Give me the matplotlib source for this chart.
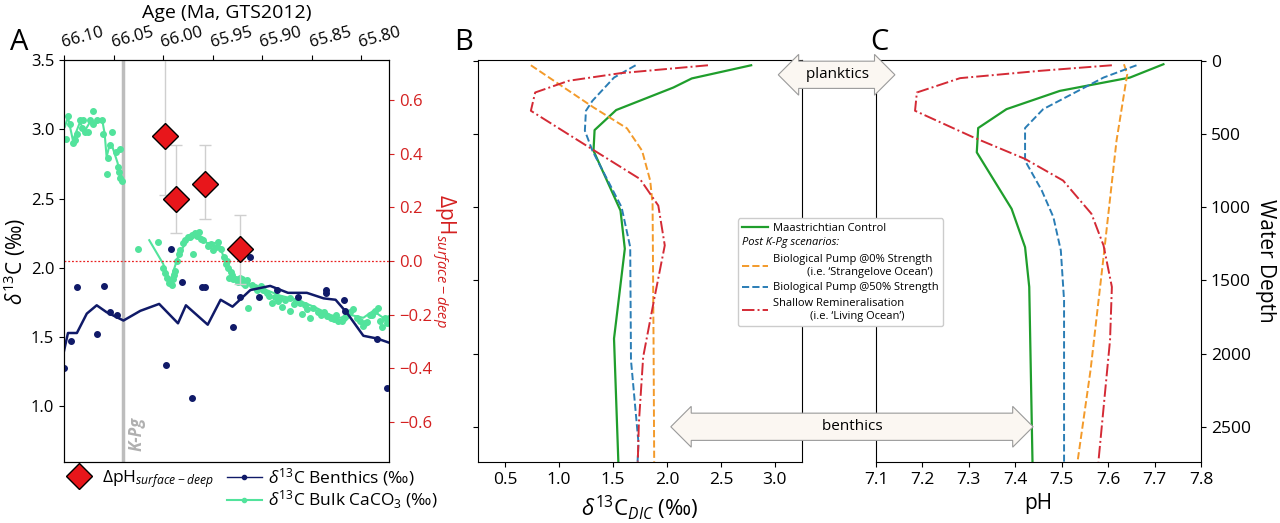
import matplotlib
matplotlib.use('Agg')
import matplotlib.pyplot as plt
from matplotlib.lines import Line2D
import matplotlib.text as mtext

plt.rcParams['font.family'] = ['Open Sans', 'DejaVu Sans']
plt.rcParams['mathtext.fontset'] = 'custom'
plt.rcParams['mathtext.rm'] = 'Open Sans'
plt.rcParams['mathtext.it'] = 'Open Sans:italic'
plt.rcParams['mathtext.bf'] = 'Open Sans:bold'

# ---- panel A data ----
bent_line_age = [66.100, 66.096, 66.087, 66.077, 66.067, 66.057, 66.040, 66.023, 66.004, 65.985, 65.977, 65.955,
                 65.942, 65.930, 65.912, 65.892, 65.874, 65.855, 65.838, 65.826, 65.814, 65.798, 65.784, 65.772]
bent_line_d13c = [1.40, 1.53, 1.53, 1.67, 1.73, 1.68, 1.62, 1.69, 1.74, 1.60, 1.73, 1.59,
                  1.77, 1.72, 1.84, 1.87, 1.82, 1.82, 1.78, 1.77, 1.67, 1.51, 1.49, 1.46]
bent_age = [66.100, 66.093, 66.087, 66.067, 66.060, 66.054, 66.047, 65.997, 65.992, 65.981, 65.971, 65.961,
            65.958, 65.929, 65.922, 65.912, 65.903, 65.885, 65.864, 65.836, 65.836, 65.818, 65.817, 65.784, 65.774]
bent_d13c = [1.28, 1.47, 1.86, 1.52, 1.87, 1.68, 1.66, 1.30, 2.14, 1.90, 1.06, 1.86,
             1.86, 1.57, 1.79, 2.08, 1.79, 1.84, 1.79, 1.84, 1.82, 1.77, 1.69, 1.49, 1.13]

bulk1_age = [66.098, 66.096, 66.094, 66.091, 66.089, 66.087, 66.084, 66.082, 66.081, 66.079, 66.076, 66.074,
             66.071, 66.071, 66.067, 66.062, 66.061, 66.052, 66.054, 66.056, 66.057, 66.048, 66.044, 66.046,
             66.045, 66.043, 66.041]
bulk1_d13c = [2.93, 3.10, 3.04, 2.90, 2.92, 2.97, 3.07, 3.01, 3.07, 2.98, 2.98, 3.07,
              3.13, 3.04, 3.07, 3.07, 2.97, 2.98, 2.89, 2.79, 2.68, 2.84, 2.86, 2.73,
              2.69, 2.65, 2.63]
bulk1_line_age = [66.099, 66.096, 66.091, 66.084, 66.079, 66.074, 66.069, 66.064, 66.061, 66.059, 66.057,
                  66.054, 66.051, 66.046, 66.044, 66.040]
bulk1_line_d13c = [3.02, 3.09, 2.92, 3.05, 2.99, 3.05, 3.04, 3.07, 3.05, 2.97, 2.80,
                   2.89, 2.87, 2.76, 2.70, 2.62]

bulk2_age = [66.025, 66.005, 66.000, 65.996, 65.993, 65.990, 65.988, 65.986, 65.983, 65.980, 65.975, 65.971,
             65.968, 65.964, 65.970, 65.960, 65.955, 65.950, 65.945, 65.942, 65.937, 65.935, 65.934, 65.929,
             65.924, 65.919, 65.914, 65.932, 65.922, 65.915, 65.907, 65.899, 65.890, 65.882, 65.880, 65.872,
             65.872, 65.862, 65.860, 65.852, 65.844, 65.838, 65.831, 65.824, 65.818, 65.811, 65.804, 65.798,
             65.794, 65.791, 65.786, 65.783, 65.779, 65.776, 65.772,
             65.998, 65.994, 65.991, 65.989, 65.984, 65.978, 65.973, 65.966, 65.962, 65.952, 65.947, 65.939,
             65.936, 65.931, 65.926, 65.920, 65.917,
             65.910, 65.905, 65.901, 65.895, 65.893, 65.887, 65.884, 65.877, 65.868, 65.866, 65.857, 65.855,
             65.849, 65.841, 65.835, 65.828, 65.826, 65.820, 65.815, 65.808, 65.801, 65.796, 65.789, 65.781,
             65.774]
bulk2_d13c = [2.14, 2.19, 2.00, 1.93, 1.90, 1.92, 1.98, 2.05, 2.13, 2.18, 2.22, 2.24,
              2.25, 2.26, 2.10, 2.20, 2.16, 2.13, 2.19, 2.14, 2.03, 2.00, 1.93, 1.92,
              1.90, 1.89, 1.71, 1.97, 1.93, 1.91, 1.86, 1.84, 1.75, 1.78, 1.72, 1.69,
              1.78, 1.75, 1.67, 1.64, 1.68, 1.68, 1.64, 1.62, 1.64, 1.68, 1.64, 1.58,
              1.61, 1.66, 1.69, 1.71, 1.57, 1.64, 1.64,
              1.96, 1.89, 1.88, 1.95, 2.10, 2.20, 2.22, 2.23, 2.21, 2.17, 2.15, 2.08,
              2.05, 1.95, 1.92, 1.92, 1.88,
              1.88, 1.84, 1.87, 1.82, 1.80, 1.79, 1.76, 1.77, 1.74, 1.76, 1.73, 1.70,
              1.71, 1.66, 1.65, 1.63, 1.66, 1.62, 1.65, 1.70, 1.62, 1.60, 1.66, 1.62,
              1.60]
bulk2_line_age = [66.014, 66.000, 65.993, 65.985, 65.976, 65.965, 65.956, 65.944, 65.940, 65.934, 65.927,
                  65.915, 65.899, 65.882, 65.865, 65.848, 65.831, 65.821, 65.811, 65.798, 65.788, 65.778, 65.772]
bulk2_line_d13c = [2.20, 2.03, 1.90, 2.08, 2.20, 2.25, 2.18, 2.18, 2.10, 1.98, 1.91,
                   1.89, 1.85, 1.80, 1.77, 1.72, 1.66, 1.64, 1.66, 1.64, 1.69, 1.64, 1.64]

dph_age = [65.998, 65.987, 65.958, 65.922]
dph = [0.467, 0.232, 0.288, 0.045]
dph_err_low = [0.22, 0.127, 0.131, 0.13]
dph_err_high = [0.30, 0.20, 0.146, 0.127]
kpg_age = 66.040

# ---- panels B/C data (depth profiles) ----
ctrl_d13c = [2.78, 2.23, 2.06, 1.53, 1.33, 1.32, 1.57, 1.61, 1.51, 1.55]
ctrl_d13c_z = [30, 120, 182, 336, 473, 614, 1023, 1284, 1898, 2739]
bp0_d13c = [0.74, 1.32, 1.63, 1.77, 1.845, 1.867, 1.876, 1.882]
bp0_d13c_z = [30, 318, 461, 614, 818, 977, 1909, 2739]
bp50_d13c = [1.71, 1.51, 1.31, 1.25, 1.24, 1.31, 1.58, 1.66, 1.667, 1.737, 1.728]
bp50_d13c_z = [30, 114, 273, 341, 477, 614, 1000, 1273, 2045, 2614, 2739]
shal_d13c = [2.38, 1.57, 1.09, 0.78, 0.74, 1.28, 1.75, 1.92, 1.98, 1.88, 1.78, 1.74, 1.73]
shal_d13c_z = [30, 84, 136, 216, 341, 591, 807, 989, 1261, 1636, 2023, 2477, 2739]

ctrl_ph = [7.719, 7.647, 7.496, 7.381, 7.320, 7.317, 7.392, 7.421, 7.430, 7.437]
ctrl_ph_z = [23, 114, 205, 330, 459, 625, 1011, 1273, 1545, 2739]
bp0_ph = [7.634, 7.641, 7.618, 7.590, 7.562, 7.534]
bp0_ph_z = [23, 91, 545, 1341, 2114, 2739]
bp50_ph = [7.661, 7.590, 7.460, 7.421, 7.421, 7.457, 7.482, 7.498, 7.505, 7.505]
bp50_ph_z = [30, 114, 330, 459, 682, 886, 1068, 1295, 1636, 2739]
shal_ph = [7.608, 7.453, 7.281, 7.188, 7.184, 7.310, 7.421, 7.503, 7.564, 7.590, 7.608, 7.604, 7.579]
shal_ph_z = [30, 68, 118, 216, 341, 523, 670, 818, 1045, 1261, 1545, 1909, 2739]

navy = '#101a68'
mint = '#52e39c'
c_ctrl = '#1f9e2c'
c_bp0 = '#f39a2a'
c_bp50 = '#2a7db5'
c_shal = '#d42a35'

fig = plt.figure(figsize=(12.8, 5.23), dpi=100)
ax_a = fig.add_axes([0.050, 0.117, 0.254, 0.768])
ax_b = fig.add_axes([0.3734, 0.117, 0.2531, 0.768])
ax_c = fig.add_axes([0.6844, 0.117, 0.2539, 0.768])

# ---- panel A ----
ax_a.axvline(kpg_age, color='#bdbdbd', lw=2.5, zorder=1)
ax_a.text(kpg_age - 0.004, 0.68, 'K-Pg', rotation=90, color='#b0b0b0', fontsize=12,
          fontweight='bold', style='italic', ha='left', va='bottom')
ax_a.plot(bent_line_age, bent_line_d13c, color=navy, lw=1.8, zorder=3)
ax_a.plot(bent_age, bent_d13c, 'o', color=navy, ms=4, zorder=3)
ax_a.plot(bulk1_line_age, bulk1_line_d13c, color=mint, lw=1.5, zorder=2)
ax_a.plot(bulk1_age, bulk1_d13c, 'o', color=mint, ms=4, zorder=2)
ax_a.plot(bulk2_line_age, bulk2_line_d13c, color=mint, lw=1.5, zorder=2)
ax_a.plot(bulk2_age, bulk2_d13c, 'o', color=mint, ms=4, zorder=2)
ax_a.set_xlim(66.10, 65.772)
ax_a.set_ylim(0.6, 3.5)
ax_a.set_yticks([1.0, 1.5, 2.0, 2.5, 3.0, 3.5])
ax_a.set_xticks([66.10, 66.05, 66.00, 65.95, 65.90, 65.85, 65.80])
ax_a.set_xticklabels(['66.10', '66.05', '66.00', '65.95', '65.90', '65.85', '65.80'])
ax_a.xaxis.tick_top()
ax_a.xaxis.set_label_position('top')
ax_a.tick_params(labelsize=12)
for lab in ax_a.get_xticklabels():
    lab.set_rotation(15)
    lab.set_ha('left')
    lab.set_rotation_mode('anchor')
ax_a.set_xlabel('Age (Ma, GTS2012)', fontsize=14, labelpad=4)
ax_a.set_ylabel(r'$\delta^{13}$C (‰)', fontsize=15, labelpad=2)

ax_a2 = ax_a.twinx()
ax_a2.axhline(0, color='#e82020', lw=0.9, ls=(0, (1.5, 1.5)))
ax_a2.errorbar(dph_age, dph, yerr=[dph_err_low, dph_err_high], fmt='none', ecolor='#cfcfcf',
               elinewidth=1, capsize=4, zorder=2)
ax_a2.plot(dph_age, dph, 'D', color='#e8161b', mec='black', mew=1, ms=13, zorder=4)
ax_a2.set_ylim(-0.75, 0.75)
ax_a2.set_yticks([-0.6, -0.4, -0.2, 0.0, 0.2, 0.4, 0.6])
ax_a2.tick_params(axis='y', colors='#d42020', labelsize=12)
ax_a2.set_ylabel(r'$\Delta$pH$_{surface-deep}$', color='#d42020', fontsize=15, rotation=270, labelpad=18)

h1 = Line2D([], [], ls='none', marker='D', color='#e8161b', mec='black', ms=13)
fig.legend([h1], [r'$\Delta$pH$_{surface-deep}$'], loc='upper left', bbox_to_anchor=(0.043, 0.118),
           frameon=False, fontsize=12.5, handletextpad=0.3, borderaxespad=0)
h2 = Line2D([], [], color=navy, lw=1, marker='o', ms=3)
h3 = Line2D([], [], color=mint, lw=1.5, marker='o', ms=3)
fig.legend([h2, h3], [r'$\delta^{13}$C Benthics (‰)', r'$\delta^{13}$C Bulk CaCO$_3$ (‰)'], loc='upper left',
           bbox_to_anchor=(0.172, 0.122), frameon=False, fontsize=12.5, handletextpad=0.35,
           labelspacing=0.05, borderaxespad=0, handlelength=2.0)

# ---- panel B ----
ax_b.plot(ctrl_d13c, ctrl_d13c_z, color=c_ctrl, lw=1.6)
ax_b.plot(bp0_d13c, bp0_d13c_z, color=c_bp0, lw=1.4, ls='--')
ax_b.plot(bp50_d13c, bp50_d13c_z, color=c_bp50, lw=1.4, ls='--')
ax_b.plot(shal_d13c, shal_d13c_z, color=c_shal, lw=1.4, ls='-.')
ax_b.set_xlim(0.25, 3.25)
ax_b.set_xticks([0.5, 1.0, 1.5, 2.0, 2.5, 3.0])
ax_b.set_ylim(2740, -5)
ax_b.set_yticks([0, 500, 1000, 1500, 2000, 2500])
ax_b.set_yticklabels([])
ax_b.tick_params(labelsize=12.5)
ax_b.set_xlabel(r'$\delta^{13}$C$_{DIC}$ (‰)', fontsize=16)

# ---- panel C ----
ax_c.plot(ctrl_ph, ctrl_ph_z, color=c_ctrl, lw=1.6)
ax_c.plot(bp0_ph, bp0_ph_z, color=c_bp0, lw=1.4, ls='--')
ax_c.plot(bp50_ph, bp50_ph_z, color=c_bp50, lw=1.4, ls='--')
ax_c.plot(shal_ph, shal_ph_z, color=c_shal, lw=1.4, ls='-.')
ax_c.set_xlim(7.1, 7.8)
ax_c.set_xticks([7.1, 7.2, 7.3, 7.4, 7.5, 7.6, 7.7, 7.8])
ax_c.set_ylim(2740, -5)
ax_c.set_yticks([0, 500, 1000, 1500, 2000, 2500])
ax_c.yaxis.tick_right()
ax_c.yaxis.set_label_position('right')
ax_c.tick_params(labelsize=12.5)
ax_c.set_xlabel('pH', fontsize=15)
ax_c.set_ylabel('Water Depth', fontsize=15, rotation=270, labelpad=18)


class TextOnlyHandler:
    def legend_artist(self, legend, orig_handle, fontsize, handlebox):
        t = mtext.Text(-handlebox.xdescent, handlebox.height / 2 - handlebox.ydescent,
                       'Post K-Pg scenarios:', fontsize=fontsize, style='italic', va='center', ha='left')
        handlebox.add_artist(t)
        return t


post_handle = Line2D([], [], color='none')
leg_handles = [Line2D([], [], color=c_ctrl, lw=1.6), post_handle,
               Line2D([], [], color=c_bp0, lw=1.4, ls='--'),
               Line2D([], [], color=c_bp50, lw=1.4, ls='--'),
               Line2D([], [], color=c_shal, lw=1.4, ls='-.')]
leg_labels = ['Maastrichtian Control', '',
              "Biological Pump @0% Strength\n(i.e. ‘Strangelove Ocean’)",
              'Biological Pump @50% Strength',
              "Shallow Remineralisation\n(i.e. ‘Living Ocean’)"]
leg = fig.legend(leg_handles, leg_labels, loc='upper left', bbox_to_anchor=(0.572, 0.593),
                 fontsize=8, handlelength=2.3, handletextpad=0.5, labelspacing=0.42,
                 framealpha=1, edgecolor='#cccccc', fancybox=True,
                 handler_map={post_handle: TextOnlyHandler()})
for t in leg.get_texts():
    t.set_multialignment('right')

# arrows
box = dict(boxstyle='darrow,pad=0.4', fc='#fbf7f2', ec='#9a9a9a', lw=0.8)
fig.text(0.654, 0.857, '   planktics   ', ha='center', va='center', fontsize=11, bbox=box, zorder=10)
fig.text(0.666, 0.184, ' ' * 34 + 'benthics' + ' ' * 34, ha='center', va='center', fontsize=11,
         bbox=box, zorder=10)

fig.text(0.008, 0.905, 'A', fontsize=21)
fig.text(0.355, 0.905, 'B', fontsize=21)
fig.text(0.680, 0.905, 'C', fontsize=21)

fig.savefig('out.png', dpi=100)
